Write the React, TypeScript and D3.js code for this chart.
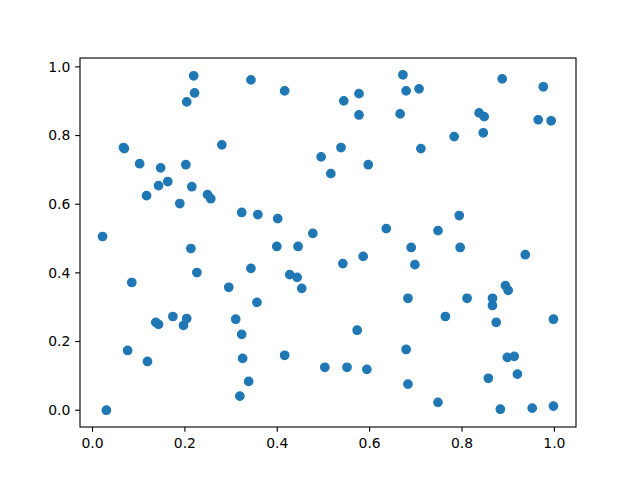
import React from "react";
import * as d3 from "d3";

const xs: number[] = [
  0.0217, 0.030, 0.067, 0.069, 0.076, 0.085, 0.102, 0.119, 0.117, 0.137,
  0.143, 0.143, 0.1475, 0.163, 0.174, 0.189, 0.197, 0.204, 0.202, 0.204,
  0.213, 0.215, 0.219, 0.221, 0.226, 0.249, 0.256, 0.280, 0.295, 0.310,
  0.319, 0.323, 0.323, 0.325, 0.338, 0.343, 0.343, 0.358, 0.356, 0.401,
  0.399, 0.416, 0.416, 0.427, 0.443, 0.445, 0.453, 0.477, 0.495, 0.503,
  0.516, 0.538, 0.542, 0.544, 0.551, 0.573, 0.577, 0.577, 0.586, 0.594,
  0.597, 0.636, 0.666, 0.672, 0.679, 0.679, 0.683, 0.683, 0.690, 0.698,
  0.707, 0.711, 0.748, 0.748, 0.764, 0.783, 0.794, 0.796, 0.811, 0.837,
  0.848, 0.846, 0.857, 0.866, 0.866, 0.874, 0.883, 0.887, 0.894, 0.900,
  0.898, 0.913, 0.920, 0.937, 0.952, 0.965, 0.976, 0.993, 0.998, 0.998,
];
const ys: number[] = [
  0.506, 0.000, 0.765, 0.762, 0.174, 0.372, 0.718, 0.142, 0.625, 0.256,
  0.250, 0.654, 0.706, 0.666, 0.273, 0.602, 0.247, 0.267, 0.715, 0.898,
  0.471, 0.651, 0.974, 0.924, 0.401, 0.628, 0.616, 0.773, 0.358, 0.265,
  0.041, 0.221, 0.576, 0.151, 0.084, 0.413, 0.962, 0.570, 0.314, 0.558,
  0.477, 0.160, 0.930, 0.395, 0.387, 0.477, 0.355, 0.515, 0.738, 0.125,
  0.689, 0.765, 0.427, 0.901, 0.125, 0.233, 0.922, 0.860, 0.448, 0.119,
  0.715, 0.529, 0.863, 0.977, 0.177, 0.930, 0.326, 0.076, 0.474, 0.424,
  0.936, 0.762, 0.523, 0.023, 0.273, 0.797, 0.567, 0.474, 0.326, 0.866,
  0.855, 0.808, 0.093, 0.326, 0.305, 0.256, 0.003, 0.965, 0.363, 0.349,
  0.154, 0.157, 0.105, 0.453, 0.006, 0.846, 0.942, 0.843, 0.265, 0.012,
];
const xTicks: number[] = [0.0, 0.2, 0.4, 0.6, 0.8, 1.0];
const yTicks: number[] = [0.0, 0.2, 0.4, 0.6, 0.8, 1.0];

const W = 640, H = 480;
const L = 80, T = 58, PW = 496, PH = 369;
const COLOR = "#1f77b4";
const FONT = "'DejaVu Sans', sans-serif";

function padded(vals: number[]): [number, number] {
  const [a, b] = d3.extent(vals) as [number, number];
  const p = (b - a) * 0.05;
  return [a - p, b + p];
}

export default function App() {
  const x = d3.scaleLinear().domain(padded(xs)).range([L, L + PW]);
  const y = d3.scaleLinear().domain(padded(ys)).range([T + PH, T]);
  const pts = xs.map((v, i) => ({ x: v, y: ys[i] }));
  const tickLen = 4.86;
  return (
    <svg width={W} height={H} style={{ position: "absolute", left: 0, top: 0, background: "#fff" }}>
      <rect x={0} y={0} width={W} height={H} fill="#fff" />
      <g>
        {pts.map((p, i) => (
          <circle key={i} cx={x(p.x)} cy={y(p.y)} r={4.17} fill={COLOR} stroke={COLOR} strokeWidth={1.39} />
        ))}
      </g>
      <rect x={L} y={T} width={PW} height={PH} fill="none" stroke="#000" strokeWidth={1.11} />
      <g>
        {xTicks.map((t) => (
          <g key={"x" + t} transform={`translate(${x(t)},${T + PH})`}>
            <line y1={0} y2={tickLen} stroke="#000" strokeWidth={1.11} />
            <text y={tickLen + 4.86 + 11} textAnchor="middle" fontFamily={FONT} fontSize={13.9} fill="#000">
              {d3.format(".1f")(t)}
            </text>
          </g>
        ))}
        {yTicks.map((t) => (
          <g key={"y" + t} transform={`translate(${L},${y(t)})`}>
            <line x1={0} x2={-tickLen} stroke="#000" strokeWidth={1.11} />
            <text x={-tickLen - 4.86} dy="0.35em" textAnchor="end" fontFamily={FONT} fontSize={13.9} fill="#000">
              {d3.format(".1f")(t)}
            </text>
          </g>
        ))}
      </g>
    </svg>
  );
}
